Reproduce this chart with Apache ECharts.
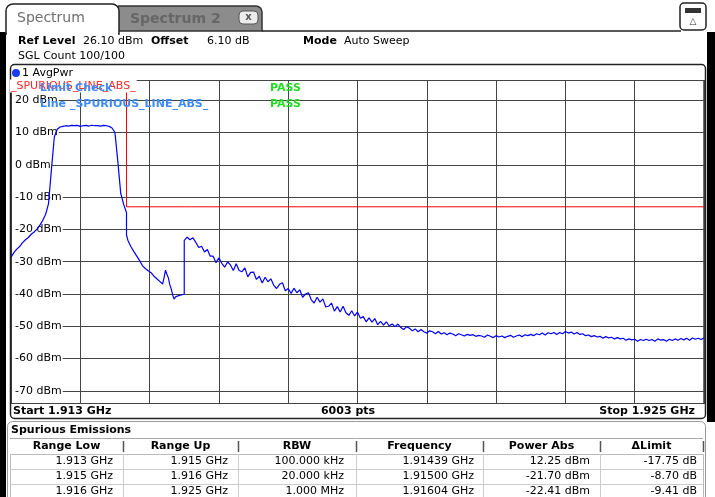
<!DOCTYPE html>
<html><head><meta charset="utf-8">
<script src="https://cdn.jsdelivr.net/npm/echarts@6/dist/echarts.min.js"></script>
<style>html,body{margin:0;padding:0;background:#fff}#c{width:715px;height:497px}</style>
</head><body><div id="c"></div>
<script>
// ---- data ----
const startGHz = 1.913;
const stopGHz = 1.925;
const refLevelDbm = 26.10;
const offsetDb = 6.10;
const rangeDb = 100;
const sweepPoints = 6003;
const rangeLowGHz = [1.913, 1.915, 1.916];
const rangeUpGHz = [1.915, 1.916, 1.925];
const rbwKHz = [100, 20, 1000];
const peakFreqGHz = [1.91439, 1.91500, 1.91604];
const powerAbsDbm = [12.25, -21.70, -22.41];
const deltaLimitDb = [-17.75, -8.70, -9.41];
const limitDbm = [30, -13, -13];
// trace values (dBm), evenly spaced across each range
const traceA = [
 -28.6,-27.2,-26.1,-25.3,-24.1,-23.2,-22.5,-21.5,-20.8,-19.9,
 -18.7,-17.2,-15.3,-12.0,-1.5,8.6,11.0,11.7,11.9,12.1,
 12.0,12.2,12.1,12.2,11.9,12.1,12.2,12.0,12.25,12.1,
 12.1,12.0,12.2,12.1,11.9,11.4,10.0,1.0,-8.8,-12.2,
 -14.8];
const traceB = [
 -21.7,-23.4,-24.0,-25.3,-25.6,-26.8,-27.0,-28.2,-28.6,-29.6,
 -29.8,-31.2,-30.7,-32.1,-31.9,-32.8,-33.0,-33.4,-33.8,-34.5,
 -34.5,-35.3,-35.1,-36.1,-36.2,-36.9,-35.0,-32.6,-33.9,-35.0,
 -37.1,-38.5,-40.3,-41.6,-40.9,-41.4,-40.5,-41.0,-40.3,-40.6,
 -40.0];
const traceC = [
 -23.4,-22.41,-23.2,-22.6,-24.0,-25.6,-25.2,-27.0,-26.2,-28.3,
 -28.3,-30.3,-28.8,-30.5,-31.7,-30.1,-31.0,-32.7,-30.6,-32.7,
 -33.1,-31.9,-34.7,-33.3,-33.2,-35.5,-34.5,-36.6,-34.8,-36.2,
 -35.3,-37.3,-38.3,-37.0,-36.5,-39.0,-38.3,-39.8,-38.2,-39.6,
 -38.7,-41.0,-40.0,-39.6,-41.8,-42.8,-41.0,-42.5,-41.5,-44.0,
 -43.8,-42.8,-45.3,-43.9,-45.6,-43.8,-45.8,-46.6,-45.2,-46.8,
 -45.6,-47.5,-47.0,-48.6,-47.4,-48.7,-47.6,-49.5,-48.5,-49.6,
 -48.6,-49.9,-49.3,-50.1,-49.3,-50.4,-51.0,-50.1,-50.6,-51.4,
 -50.8,-51.7,-51.0,-51.7,-52.1,-51.4,-51.7,-52.3,-51.6,-52.4,
 -52.0,-52.6,-52.1,-52.4,-52.9,-52.3,-52.6,-53.0,-52.5,-52.8,
 -52.6,-53.1,-52.8,-53.0,-53.4,-52.7,-53.1,-53.5,-52.9,-53.3,
 -53.0,-53.5,-53.1,-52.8,-53.4,-53.0,-52.7,-53.2,-52.6,-52.9,
 -52.5,-52.9,-52.3,-52.6,-52.1,-52.7,-52.0,-52.3,-51.9,-52.5,
 -51.9,-52.3,-51.6,-52.1,-51.8,-52.4,-51.9,-52.5,-52.3,-52.9,
 -52.7,-53.2,-52.9,-53.3,-53.1,-53.7,-53.2,-53.6,-53.4,-53.9,
 -53.5,-53.9,-53.7,-54.3,-53.9,-54.2,-54.0,-54.6,-54.1,-54.4,
 -54.0,-54.4,-54.1,-54.6,-53.9,-54.3,-54.1,-54.6,-54.0,-54.4,
 -53.9,-54.3,-53.8,-54.2,-53.7,-54.3,-53.6,-54.0,-53.7,-54.1,-53.6];
const tableHeaders = ['Range Low','Range Up','RBW','Frequency','Power Abs','\u0394Limit'];

// ---- build ----
const toMHzOff = g => (g - startGHz) * 1000;
const segs = [traceA, traceB, traceC];
const trace = [];
segs.forEach((vals, k) => {
  const lo = toMHzOff(rangeLowGHz[k]), hi = toMHzOff(rangeUpGHz[k]);
  vals.forEach((v, i) => trace.push([lo + (hi - lo) * i / (vals.length - 1), v]));
});
const limitData = [];
limitDbm.forEach((l, k) => { limitData.push([toMHzOff(rangeLowGHz[k]), l]); limitData.push([toMHzOff(rangeUpGHz[k]), l]); });

const FONT = '"DejaVu Sans", Verdana, sans-serif';
function T(x, y, text, o) {
  o = o || {};
  const st = {x: x, y: y, text: text, fill: o.color || '#000',
    font: (o.bold ? 'bold ' : '') + (o.size || 11) + 'px ' + FONT,
    align: o.align || 'left', verticalAlign: 'middle',
    textAlign: o.align || 'left', textVerticalAlign: 'middle'};
  if (o.bg) { st.backgroundColor = o.bg; st.padding = o.pad || [1, 1, 1, 1]; }
  return {type: 'text', z: o.z || 20, silent: true, style: st};
}
function L(x1, y1, x2, y2, c, w, z) {
  return {type: 'line', z: z || 20, silent: true, shape: {x1, y1, x2, y2}, style: {stroke: c, lineWidth: w || 1}};
}
function R(x, y, w, h, o) {
  o = o || {};
  return {type: 'rect', z: o.z || 15, silent: true, shape: {x, y, width: w, height: h, r: o.r || 0},
    style: {fill: o.fill || 'none', stroke: o.stroke || null, lineWidth: o.lw || 1}};
}

const fmtGHz3 = v => v.toFixed(3) + ' GHz';
const fmtRbw = v => v >= 1000 ? (v / 1000).toFixed(3) + ' MHz' : v.toFixed(3) + ' kHz';
const rows = rangeLowGHz.map((_, k) => [
  fmtGHz3(rangeLowGHz[k]), fmtGHz3(rangeUpGHz[k]), fmtRbw(rbwKHz[k]),
  peakFreqGHz[k].toFixed(5) + ' GHz', powerAbsDbm[k].toFixed(2) + ' dBm', deltaLimitDb[k].toFixed(2) + ' dB']);

const colSep = [10, 123, 238, 356, 483, 600, 703];
const colRight = [113, 228, 344, 474, 590, 697];
const rowY = [461, 476, 491];

const g = [];
// frame bars
g.push(R(0, 32, 6, 465, {fill: '#000', z: 5}));
g.push(R(707, 32, 8, 390, {fill: '#000', z: 5}));
// tabs
g.push(R(118, 6, 144, 25, {fill: '#8c8c8c', stroke: '#333', lw: 1.5, r: [0, 6, 0, 0], z: 10}));
g.push(R(6, 4, 113, 30, {fill: '#fff', stroke: '#222', lw: 1.5, r: [7, 7, 0, 0], z: 11}));
g.push(R(7, 31, 111, 4, {fill: '#fff', z: 12}));
g.push(L(262, 31, 681, 31, '#222', 1.5, 10));
g.push(T(17, 18, 'Spectrum', {size: 14, color: '#6e6e6e'}));
g.push(T(130, 19, 'Spectrum 2', {size: 14, bold: true, color: '#666'}));
g.push(R(239, 11, 19, 13, {fill: '#ececec', stroke: '#555', r: 4, z: 16}));
g.push(T(248.5, 17, 'x', {size: 10, bold: true, color: '#555', align: 'center'}));
g.push(R(680, 3, 26, 27, {fill: '#fff', stroke: '#222', lw: 1.5, r: 4, z: 16}));
g.push(R(685, 8, 16, 5, {fill: '#333', z: 17}));
g.push(T(693, 22, '\u25B3', {size: 9, color: '#333', align: 'center'}));
// info text
g.push(T(18, 41, 'Ref Level', {bold: true}));
g.push(T(83, 41, refLevelDbm.toFixed(2) + ' dBm'));
g.push(T(151, 41, 'Offset', {bold: true}));
g.push(T(207, 41, offsetDb.toFixed(2) + ' dB'));
g.push(T(303, 41, 'Mode', {bold: true}));
g.push(T(344, 41, 'Auto Sweep'));
g.push(T(18, 56, 'SGL Count 100/100'));
// diagram box
g.push(R(10.5, 64.5, 695, 354, {stroke: '#222', lw: 1.5, r: 4, z: 8}));
g.push({type: 'circle', z: 20, silent: true, shape: {cx: 16, cy: 73, r: 4}, style: {fill: '#1a3cf0'}});
g.push(T(22, 73, '1 AvgPwr'));
g.push(T(10, 86, '_SPURIOUS_LINE_ABS_', {color: '#ff2a2a', bg: '#fff', pad: [1, 1, 1, 1], z: 30}));
g.push(T(40, 88, 'Limit Check', {bold: true, color: '#3d8cff', z: 31}));
g.push(T(40, 104, 'Line _SPURIOUS_LINE_ABS_', {bold: true, color: '#3d8cff', z: 31}));
g.push(T(270, 88, 'PASS', {bold: true, color: '#22dd22', z: 31}));
g.push(T(270, 104, 'PASS', {bold: true, color: '#22dd22', z: 31}));
g.push(T(13, 411, 'Start ' + startGHz.toFixed(3) + ' GHz', {bold: true}));
g.push(T(348, 411, sweepPoints + ' pts', {bold: true, align: 'center'}));
g.push(T(695, 411, 'Stop ' + stopGHz.toFixed(3) + ' GHz', {bold: true, align: 'right'}));
// spurious panel
g.push(R(7.5, 421.5, 698, 80, {fill: '#fff', stroke: '#999', lw: 1, r: [5, 5, 0, 0], z: 8}));
g.push(T(11, 430, 'Spurious Emissions', {bold: true}));
g.push(L(10, 438.5, 703, 438.5, '#aaa', 1));
for (let c = 1; c < colSep.length - 1; c++) g.push(L(colSep[c] + 0.5, 441, colSep[c] + 0.5, 452, '#555', 1.5));
g.push(L(703.5, 441, 703.5, 452, '#555', 1.5));
tableHeaders.forEach((h, c) => g.push(T((colSep[c] + colSep[c + 1]) / 2, 446, h, {bold: true, align: 'center'})));
g.push(R(10.5, 454.5, 693, 50, {stroke: '#bbb', lw: 1, z: 16}));
[469.5, 484.5].forEach(y => g.push(L(10, y, 703, y, '#ccc', 1)));
for (let c = 1; c < colSep.length - 1; c++) g.push(L(colSep[c] + 0.5, 454, colSep[c] + 0.5, 497, '#ccc', 1));
rows.forEach((r, k) => r.forEach((s, c) => g.push(T(colRight[c], rowY[k], s, {align: 'right'}))));

const chart = echarts.init(document.getElementById('c'), null, {renderer: 'canvas'});
chart.setOption({
  animation: false,
  backgroundColor: '#fff',
  grid: {left: 11, right: 11, top: 80.5, bottom: 93.5, show: true, borderColor: '#111', borderWidth: 1.2, containLabel: false, outerBoundsMode: 'none'},
  xAxis: {type: 'value', min: 0, max: toMHzOff(stopGHz), interval: 1.2,
    axisLine: {show: false}, axisTick: {show: false}, axisLabel: {show: false},
    splitLine: {show: true, lineStyle: {color: '#444', width: 1}}},
  yAxis: {type: 'value', min: refLevelDbm - rangeDb, max: refLevelDbm, splitNumber: 10,
    axisLine: {show: false}, axisTick: {show: false},
    axisLabel: {inside: true, margin: 1, showMinLabel: false, showMaxLabel: false,
      formatter: v => Math.round(v) + ' dBm', color: '#000', fontSize: 11, fontFamily: 'DejaVu Sans',
      backgroundColor: '#fff', padding: [1, 1, 0, 3]},
    splitLine: {show: true, lineStyle: {color: '#444', width: 1}}},
  series: [
    {type: 'line', data: limitData, symbol: 'none', lineStyle: {color: '#ff0000', width: 1}, z: 2, silent: true},
    {type: 'line', data: trace, symbol: 'none', showSymbol: false, lineStyle: {color: '#0000ff', width: 1.2}, z: 3, silent: true}
  ],
  graphic: {elements: g}
});
</script></body></html>
